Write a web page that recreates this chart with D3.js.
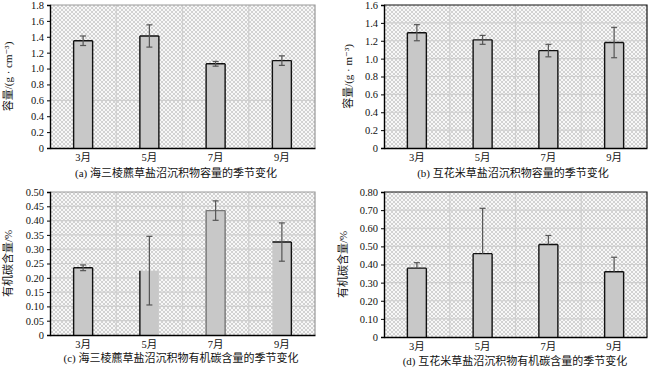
<!DOCTYPE html>
<html>
<head>
<meta charset="utf-8">
<script src="https://cdn.jsdelivr.net/npm/d3@7"></script>
<style>
body { margin: 0; background: #fff; }
text { font-family: "Liberation Serif", "DejaVu Serif", "Noto Sans CJK SC", serif; fill: #111; }
</style>
</head>
<body>
<svg id="fig" width="650" height="370"></svg>
<script>
var months = ["3月", "5月", "7月", "9月"];

// (a) 海三棱藨草 容量
var densA = [1.35, 1.41, 1.06, 1.10];
var errA = [0.06, 0.14, 0.03, 0.06];
// (b) 互花米草 容量
var densB = [1.29, 1.21, 1.09, 1.18];
var errB = [0.09, 0.05, 0.07, 0.17];
// (c) 海三棱藨草 有机碳
var carbC = [0.235, 0.225, 0.435, 0.325];
var errC = [0.01, 0.12, 0.034, 0.067];
// (d) 互花米草 有机碳
var carbD = [0.38, 0.46, 0.51, 0.36];
var errD = [0.03, 0.25, 0.05, 0.08];

var ticksA = [0, 0.2, 0.4, 0.6, 0.8, 1.0, 1.2, 1.4, 1.6, 1.8];
var ticksB = [0, 0.2, 0.4, 0.6, 0.8, 1.0, 1.2, 1.4, 1.6];
var ticksC = [0, 0.05, 0.10, 0.15, 0.20, 0.25, 0.30, 0.35, 0.40, 0.45, 0.50];
var ticksD = [0, 0.10, 0.20, 0.30, 0.40, 0.50, 0.60, 0.70, 0.80];

var svg = d3.select("#fig");

var defs = svg.append("defs");
var pat = defs.append("pattern")
    .attr("id", "hatch")
    .attr("patternUnits", "userSpaceOnUse")
    .attr("width", 4).attr("height", 4);
pat.append("rect").attr("width", 4).attr("height", 4).attr("fill", "#f8f8f8");
pat.append("path").attr("d", "M0,0L4,4M4,0L0,4")
    .attr("stroke", "#c8c8c8").attr("stroke-width", 0.8);

function panel(cfg) {
    var g = svg.append("g");
    var x = d3.scaleBand().domain(months).range([cfg.left, cfg.right]);
    var y = d3.scaleLinear().domain([0, cfg.max]).range([cfg.bottom, cfg.top]);

    g.append("rect")
        .attr("x", cfg.left).attr("y", cfg.top)
        .attr("width", cfg.right - cfg.left).attr("height", cfg.bottom - cfg.top)
        .attr("fill", "url(#hatch)");

    // grid
    g.selectAll(".hg").data(cfg.grid).enter().append("line")
        .attr("x1", cfg.left).attr("x2", cfg.right)
        .attr("y1", function(d) { return y(d); }).attr("y2", function(d) { return y(d); })
        .attr("stroke", "#cfcfcf").attr("stroke-width", 1.2);
    g.selectAll(".vg").data(months.slice(1)).enter().append("line")
        .attr("x1", function(d) { return x(d); }).attr("x2", function(d) { return x(d); })
        .attr("y1", cfg.top).attr("y2", cfg.bottom)
        .attr("stroke", "#cfcfcf").attr("stroke-width", 1.2);

    // border
    g.append("path")
        .attr("d", "M" + cfg.left + "," + cfg.top + "H" + cfg.right + "V" + cfg.bottom)
        .attr("fill", "none").attr("stroke", cfg.topColor).attr("stroke-width", 1.2);

    var bw = 19;
    var bars = g.selectAll(".bar").data(cfg.vals).enter().append("g");
    bars.append("rect")
        .attr("x", function(d, i) { return x(months[i]) + x.bandwidth() / 2 - bw / 2; })
        .attr("y", function(d) { return y(d); })
        .attr("width", bw)
        .attr("height", function(d) { return cfg.bottom - y(d); })
        .attr("fill", "#c8c8c8");
    // bar outlines, edge by edge (l = left, t = top, r = right)
    bars.append("path")
        .attr("d", function(d, i) {
            var x0 = x(months[i]) + x.bandwidth() / 2 - bw / 2, x1 = x0 + bw, yt = y(d), yb = cfg.bottom;
            var e = cfg.edges[i], p = "";
            if (e.indexOf("l") >= 0) p += "M" + x0 + "," + yb + "V" + yt;
            if (e.indexOf("t") >= 0) p += "M" + x0 + "," + yt + "H" + x1;
            if (e.indexOf("r") >= 0) p += "M" + x1 + "," + yt + "V" + yb;
            return p || null;
        })
        .attr("fill", "none")
        .attr("stroke", function(d, i) { return cfg.barStroke[i]; })
        .attr("stroke-width", 1.4);

    // error bars
    var eb = g.selectAll(".err").data(cfg.vals).enter().append("g")
        .attr("stroke", "#555").attr("stroke-width", 1.2);
    eb.append("line")
        .attr("x1", function(d, i) { return x(months[i]) + x.bandwidth() / 2; })
        .attr("x2", function(d, i) { return x(months[i]) + x.bandwidth() / 2; })
        .attr("y1", function(d, i) { return y(cfg.upOnly ? d : d - cfg.err[i]); })
        .attr("y2", function(d, i) { return y(d + cfg.err[i]); });
    eb.append("line")
        .attr("x1", function(d, i) { return x(months[i]) + x.bandwidth() / 2 - 3; })
        .attr("x2", function(d, i) { return x(months[i]) + x.bandwidth() / 2 + 3; })
        .attr("y1", function(d, i) { return y(d + cfg.err[i]); })
        .attr("y2", function(d, i) { return y(d + cfg.err[i]); });
    if (!cfg.upOnly) {
        eb.append("line")
            .attr("x1", function(d, i) { return x(months[i]) + x.bandwidth() / 2 - 3; })
            .attr("x2", function(d, i) { return x(months[i]) + x.bandwidth() / 2 + 3; })
            .attr("y1", function(d, i) { return y(d - cfg.err[i]); })
            .attr("y2", function(d, i) { return y(d - cfg.err[i]); });
    }

    var ya = d3.axisLeft(y).tickValues(cfg.ticks).tickSize(3)
        .tickFormat(function(d) { return d === 0 ? "0" : d3.format(cfg.fmt)(d); });
    var yg = g.append("g").attr("transform", "translate(" + cfg.left + ",0)").call(ya);
    yg.selectAll("text").style("font-size", "10.5px");
    yg.select(".domain").attr("stroke-width", 1.4);

    var xa = d3.axisBottom(x).tickSize(0).tickPadding(6);
    var xg = g.append("g").attr("transform", "translate(0," + cfg.bottom + ")").call(xa);
    xg.selectAll("text").style("font-size", "10.5px");
    xg.select(".domain").attr("stroke-width", 1.4);

    g.append("text")
        .attr("transform", "translate(" + cfg.labelX + "," + (cfg.top + cfg.bottom) / 2 + ") rotate(-90)")
        .attr("text-anchor", "middle")
        .style("font-size", "11px")
        .text(cfg.label);

    g.append("text")
        .attr("x", cfg.capX).attr("y", cfg.capY)
        .attr("text-anchor", "middle")
        .style("font-size", "11px")
        .text(cfg.caption);
}

var all = ["ltr", "ltr", "ltr", "ltr"];

panel({ left: 50, right: 315, top: 5, bottom: 148, max: 1.8, ticks: ticksA, grid: [0.6], fmt: ".1f",
    vals: densA, err: errA, topColor: "#999", barStroke: ["#111", "#111", "#111", "#111"], edges: all,
    label: "容量/(g · cm⁻³)", labelX: 12, caption: "(a) 海三棱藨草盐沼沉积物容量的季节变化", capX: 176, capY: 177 });
panel({ left: 384, right: 647, top: 5, bottom: 148, max: 1.6, ticks: ticksB, grid: ticksB.slice(1, -1), fmt: ".1f",
    vals: densB, err: errB, topColor: "#111", barStroke: ["#111", "#111", "#111", "#111"], edges: all,
    label: "容量/(g · m⁻³)", labelX: 352, caption: "(b) 互花米草盐沼沉积物容量的季节变化", capX: 513, capY: 177 });
panel({ left: 50, right: 315, top: 192, bottom: 335, max: 0.5, ticks: ticksC, grid: ticksC.slice(1, -1), fmt: ".2f",
    vals: carbC, err: errC, topColor: "#999", barStroke: ["#111", "#111", "#777", "#111"], edges: ["ltr", "l", "ltr", "tr"],
    label: "有机碳含量/%", labelX: 12, caption: "(c) 海三棱藨草盐沼沉积物有机碳含量的季节变化", capX: 181, capY: 362 });
panel({ left: 384, right: 647, top: 192, bottom: 337, max: 0.8, ticks: ticksD, grid: ticksD.slice(1, -1), fmt: ".2f",
    vals: carbD, err: errD, upOnly: true, topColor: "#111", barStroke: ["#111", "#111", "#111", "#111"], edges: all,
    label: "有机碳含量/%", labelX: 347, caption: "(d) 互花米草盐沼沉积物有机碳含量的季节变化", capX: 515, capY: 365 });
</script>
</body>
</html>
